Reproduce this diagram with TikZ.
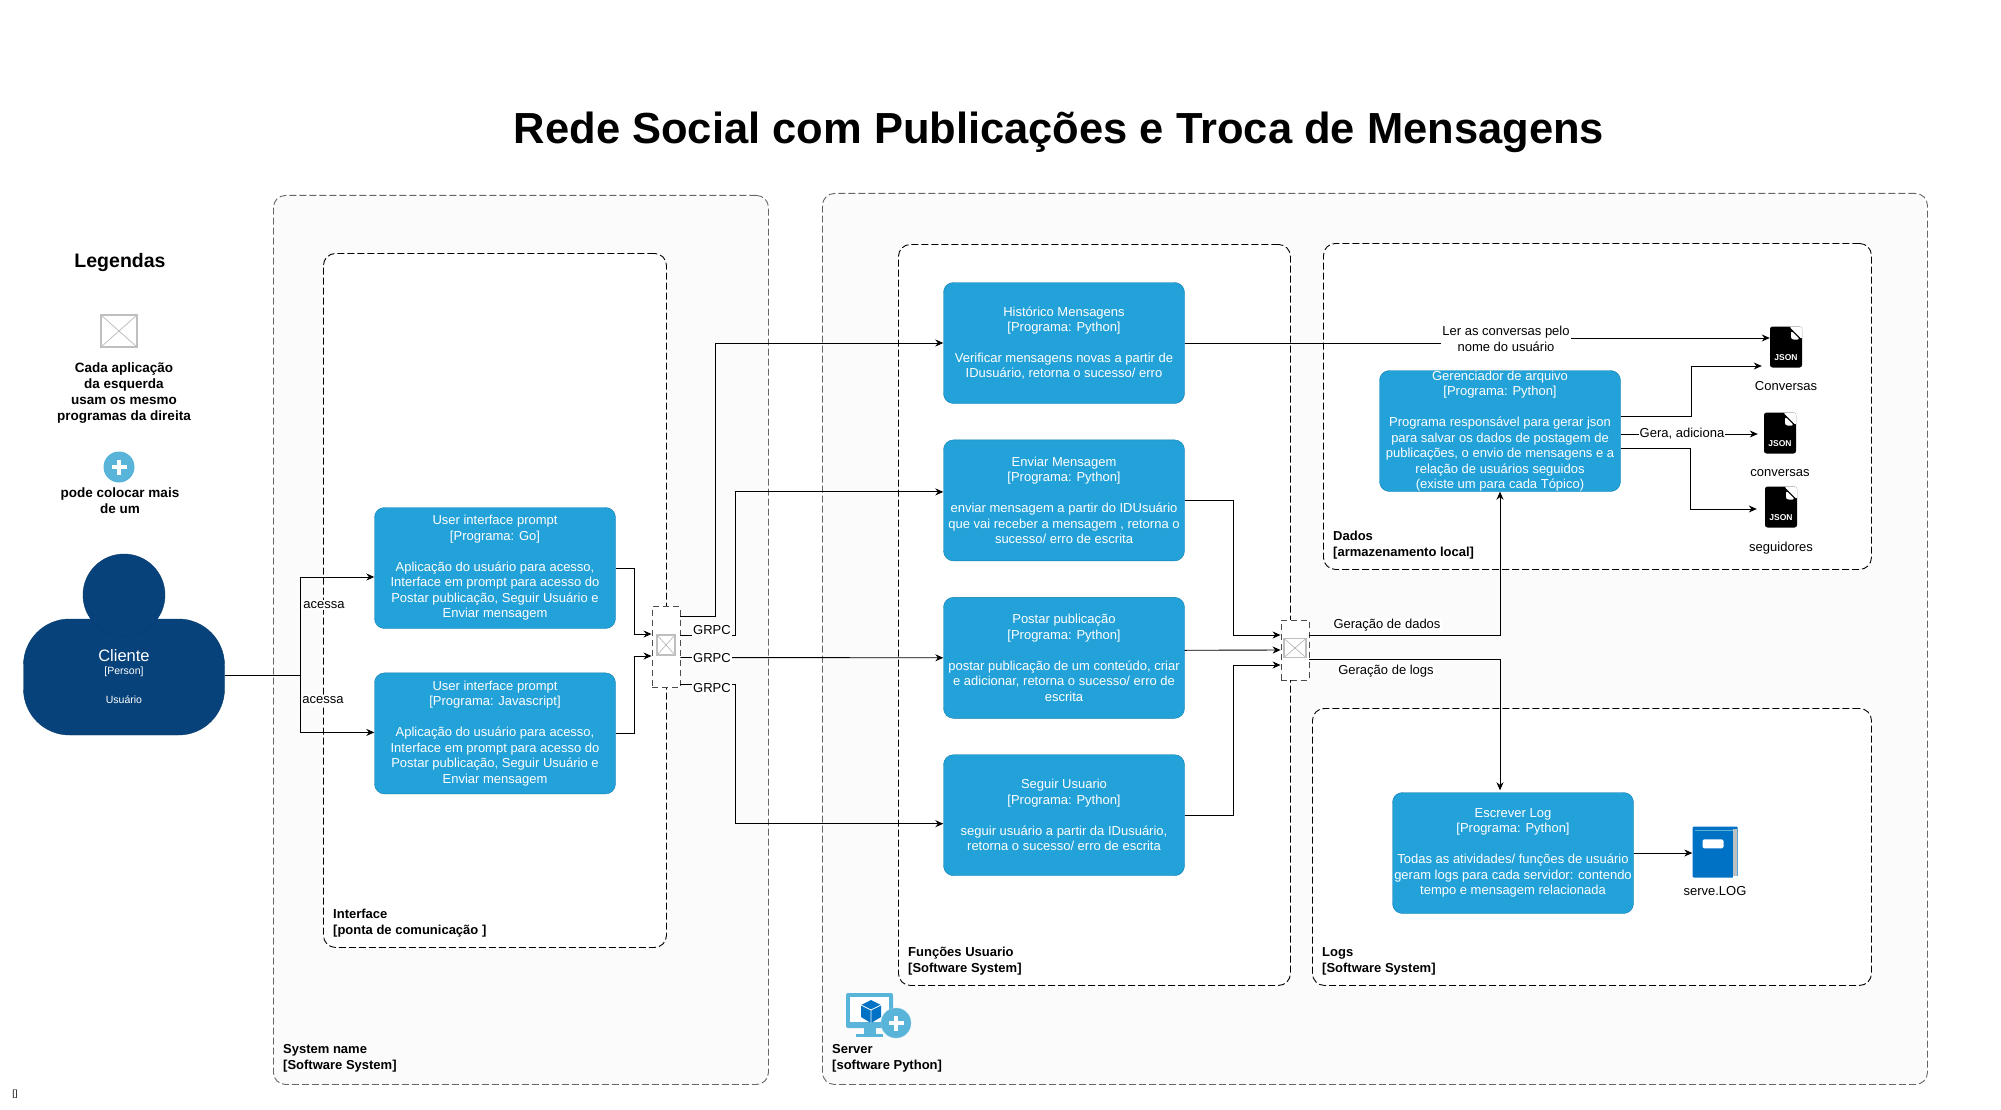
\documentclass[tikz,border=0pt]{standalone}
\usepackage{fontspec}
\setmainfont{Liberation Sans}
\usetikzlibrary{positioning, arrows.meta}

\definecolor{progblue}{HTML}{23A2D9}
\definecolor{progedge}{HTML}{0E7DAD}
\definecolor{persblue}{HTML}{08427B}
\definecolor{persedge}{HTML}{073B6F}
\definecolor{iconblue}{HTML}{59B4D9}
\definecolor{bookblue}{HTML}{0072C6}

\tikzset{
	programa/.style={draw=progedge, fill=progblue, text=white, rounded corners=10pt, minimum width=241pt, minimum height=121pt, inner sep=0pt, align=center, font=\fontsize{13}{15.5}\selectfont},
	sistema/.style={draw=black!60, line width=.9pt, fill=black!1.5, dash pattern=on 7pt off 3pt, rounded corners=12pt, anchor=north west, inner sep=0pt},
	grupo/.style={draw=black, line width=.9pt, fill=white, dash pattern=on 7pt off 3pt, rounded corners=12pt, anchor=north west, inner sep=0pt},
	rotulo/.style={font=\fontsize{13}{15.4}\bfseries\selectfont, align=left, inner sep=0pt},
	texto/.style={font=\fontsize{13}{15.4}\selectfont, align=center, inner sep=1pt},
	aresta/.style={font=\fontsize{13}{15.4}\selectfont, align=center, inner sep=1pt, fill=white},
	legenda/.style={font=\fontsize{13.5}{15.8}\bfseries\selectfont, align=center, inner sep=0pt},
	juncao/.style={draw=black!70, line width=.9pt, fill=white, dash pattern=on 6pt off 4pt, minimum width=28pt, inner sep=0pt},
	imagem/.style={draw=black!25, line width=1.2pt, fill=white, inner sep=0pt, path picture={
		\draw[black!30, line width=.6pt] (path picture bounding box.north west) -- (path picture bounding box.south east);
		\draw[black!30, line width=.6pt] (path picture bounding box.north east) -- (path picture bounding box.south west);}},
	mais/.style={circle, fill=iconblue, minimum size=31pt, inner sep=0pt, path picture={
		\fill[white] ([xshift=-7.5pt,yshift=-2pt]path picture bounding box.center) rectangle ([xshift=7.5pt,yshift=2pt]path picture bounding box.center);
		\fill[white] ([xshift=-2pt,yshift=-7.5pt]path picture bounding box.center) rectangle ([xshift=2pt,yshift=7.5pt]path picture bounding box.center);}},
	json/.style={fill=black, rounded corners=2.5pt, minimum width=32pt, minimum height=41pt, inner sep=0pt, text=white, font=\fontsize{8.5}{9}\bfseries\selectfont, path picture={
		\fill[white] ([xshift=-13pt]path picture bounding box.north east) -- ([xshift=1pt,yshift=1pt]path picture bounding box.north east) -- ([yshift=-13pt]path picture bounding box.north east) -- cycle;
		\fill[white] ([xshift=-11pt,yshift=-4pt]path picture bounding box.north east) -- ([xshift=-11pt,yshift=-13pt]path picture bounding box.north east) -- ([xshift=-2pt,yshift=-13pt]path picture bounding box.north east) -- cycle;}},
	seta/.style={->, draw=black, line width=.9pt},
	linha/.style={draw=black, line width=.9pt}
}
\newcommand{\jsonmark}{\raisebox{-13pt}[0pt][0pt]{JSON}}

\begin{document}
\begin{tikzpicture}[x=1pt, y=-1pt, node distance=36pt, >={Stealth[length=8pt,width=7pt]}]
		\useasboundingbox (0,0) rectangle (2001,1110);

		\node[font=\fontsize{43.5}{48}\bfseries\selectfont, inner sep=0pt] (titulo) at (1059,132.5) {Rede Social com Publicações e Troca de Mensagens};

		\node[sistema, minimum width=495pt, minimum height=889pt] (sysBox) at (273,195) {};
		\node[sistema, minimum width=1105pt, minimum height=891pt] (serverBox) at (822,193) {};
		\node[grupo, minimum width=343pt, minimum height=694pt] (interfaceBox) at (323,253) {};
		\node[grupo, minimum width=392pt, minimum height=741pt] (funcoesBox) at (898,244) {};
		\node[grupo, minimum width=548pt, minimum height=326pt] (dadosBox) at (1323,243) {};
		\node[grupo, minimum width=559pt, minimum height=277pt] (logsBox) at (1312,708) {};

		\node[rotulo, above right=13pt and 10pt of sysBox.south west] (sysLabel) {System name\\{[}Software System{]}};
		\node[rotulo, above right=13pt and 10pt of serverBox.south west] (serverLabel) {Server\\{[}software Python{]}};
		\node[rotulo, above right=11pt and 10pt of interfaceBox.south west] (interfaceLabel) {Interface\\{[}ponta de comunicação {]}};
		\node[rotulo, above right=11pt and 10pt of funcoesBox.south west] (funcoesLabel) {Funções Usuario\\{[}Software System{]}};
		\node[rotulo, above right=11pt and 10pt of dadosBox.south west] (dadosLabel) {Dados\\{[}armazenamento local{]}};
		\node[rotulo, above right=11pt and 10pt of logsBox.south west] (logsLabel) {Logs\\{[}Software System{]}};

		\node[font=\fontsize{19.5}{22}\bfseries\selectfont, inner sep=0pt] (legendas) at (120,262) {Legendas};
		\node[imagem, minimum width=36pt, minimum height=32pt] (legImagem) at (119,331) {};
		\node[legenda] (legImagemTxt) at (124,393) {Cada aplicação\\da esquerda\\usam os mesmo\\programas da direita};
		\node[mais] (legMais) at (119,467) {};
		\node[legenda] (legMaisTxt) at (120,501) {pode colocar mais\\de um};

		\node[draw=persedge, fill=persblue, text=white, rounded corners=46pt, minimum width=201pt, minimum height=116pt, inner sep=0pt, align=center, font=\fontsize{10.5}{13}\selectfont] (cliente) at (124,677) {{\fontsize{16.5}{18}\selectfont Cliente}\\{[}Person{]}\\[16pt]Usuário};
		\node[circle, draw=persedge, fill=persblue, minimum size=82pt, inner sep=0pt] (clienteHead) at (124,595) {};

		\node[programa] (uiGo) at (495,568) {User interface prompt\\{[}Programa: Go{]}\\[15.4pt]Aplicação do usuário para acesso,\\Interface em prompt para acesso do\\Postar publicação, Seguir Usuário e\\Enviar mensagem};
		\node[programa, below = 44pt of uiGo] (uiJs) {User interface prompt\\{[}Programa: Javascript{]}\\[15.4pt]Aplicação do usuário para acesso,\\Interface em prompt para acesso do\\Postar publicação, Seguir Usuário e\\Enviar mensagem};

		\node[programa] (histMsg) at (1064,343) {Histórico Mensagens\\{[}Programa: Python{]}\\[15.4pt]Verificar mensagens novas a partir de\\IDusuário, retorna o sucesso/ erro};
		\node[programa, below = of histMsg] (enviarMsg) {Enviar Mensagem\\{[}Programa: Python{]}\\[15.4pt]enviar mensagem a partir do IDUsuário\\que vai receber a mensagem , retorna o\\sucesso/ erro de escrita};
		\node[programa, below = of enviarMsg] (postarPub) {Postar publicação\\{[}Programa: Python{]}\\[15.4pt]postar publicação de um conteúdo, criar\\e adicionar, retorna o sucesso/ erro de\\escrita};
		\node[programa, below = of postarPub] (seguirUser) {Seguir Usuario\\{[}Programa: Python{]}\\[15.4pt]seguir usuário a partir da IDusuário,\\retorna o sucesso/ erro de escrita};
		\node[programa] (gerArquivo) at (1500,431) {Gerenciador de arquivo\\{[}Programa: Python{]}\\[15.4pt]Programa responsável para gerar json\\para salvar os dados de postagem de\\publicações, o envio de mensagens e a\\relação de usuários seguidos\\(existe um para cada Tópico)};
		\node[programa] (escLog) at (1513,853) {Escrever Log\\{[}Programa: Python{]}\\[15.4pt]Todas as atividades/ funções de usuário\\geram logs para cada servidor: contendo\\tempo e mensagem relacionada};

		\node[json] (jsonConversas) at (1786,347) {\jsonmark};
		\node[texto, below = 13pt of jsonConversas] (txtConversas) {Conversas};
		\node[json] (jsonConversasDois) at (1780,433) {\jsonmark};
		\node[texto, below = 15pt of jsonConversasDois] (txtConversasDois) {conversas};
		\node[json] (jsonSeguidores) at (1781,507) {\jsonmark};
		\node[texto, below = 13pt of jsonSeguidores] (txtSeguidores) {seguidores};

		\node[fill=bookblue, rounded corners=1pt, minimum width=45pt, minimum height=51pt, inner sep=0pt] (bookLog) at (1715,852) {};
		\fill[black!25] ([xshift=-5pt,yshift=-3pt]bookLog.north east) rectangle ([xshift=-1pt,yshift=2pt]bookLog.south east);
		\fill[white] ([xshift=-5pt]bookLog.south east) rectangle ([yshift=2pt]bookLog.south east);
		\draw[iconblue, line width=.6pt] ([xshift=3pt,yshift=-4pt]bookLog.north west) -- ([xshift=-5pt,yshift=-4pt]bookLog.north east);
		\fill[white, rounded corners=1.5pt] ([xshift=-12.5pt,yshift=-13pt]bookLog.north) rectangle ([xshift=8.5pt,yshift=-22pt]bookLog.north);
		\node[texto, below = 8pt of bookLog] (txtLog) {serve.LOG};

		\coordinate (splitCliente) at (300,675);
		\draw[linha] (cliente.east |- splitCliente) to (splitCliente);
		\draw[seta] (splitCliente) |- ([yshift=-9pt]uiGo.west);
		\draw[seta] (splitCliente) |- ([yshift=1pt]uiJs.west);

		\node[juncao, minimum height=81pt] (juncEsq) at (666,647) {};
		\node[juncao, minimum height=60pt] (juncDir) at (1295,650) {};
		\node[imagem, minimum width=18pt, minimum height=20pt] (imgEsq) at (666,645) {};
		\node[imagem, minimum width=22pt, minimum height=19pt] (imgDir) at (1295,648) {};

		\draw[seta] (uiGo.east) -- ++(19,0) |- ([yshift=13pt]juncEsq.west);
		\draw[seta] (uiJs.east) -- ++(19,0) |- ([yshift=-9pt]juncEsq.west);

		\draw[seta] ([yshift=31pt]juncEsq.east) -- ++(35,0) |- (histMsg.west);
		\draw[seta] ([yshift=12pt]juncEsq.east) -- ++(55,0) |- ([yshift=8.5pt]enviarMsg.west);
		\draw[seta] ([yshift=-10.5pt]juncEsq.east) to (postarPub.west);
		\draw[seta] ([yshift=-37pt]juncEsq.east) -- ++(55,0) |- ([yshift=-8.5pt]seguirUser.west);

		\draw[seta] (enviarMsg.east) -- ++(49,0) |- ([yshift=15pt]juncDir.west);
		\draw[seta] ([yshift=7.5pt]postarPub.east) to (juncDir.west);
		\draw[seta] (seguirUser.east) -- ++(49,0) |- ([yshift=-15pt]juncDir.west);
		\draw[seta] ([yshift=15pt]juncDir.east) -| (gerArquivo.south);
		\draw[seta] ([yshift=-9pt]juncDir.east) -| ([yshift=2pt]escLog.north -| gerArquivo.south);

		\node[aresta] (lerConversas) at (1506,339) {Ler as conversas pelo\\nome do usuário};
		\draw[linha] (histMsg.east) -- (histMsg.east -| lerConversas.west);
		\draw[seta] ([yshift=1pt]lerConversas.east) -- ([yshift=9pt]jsonConversas.west);
		\draw[seta] ([yshift=15pt]gerArquivo.east) -- ++(71,0) |- ([xshift=-8pt,yshift=-19pt]jsonConversas.west);
		\draw[seta] ([yshift=-3pt]gerArquivo.east) to ([xshift=-6pt,yshift=-1pt]jsonConversasDois.west);
		\draw[seta] ([yshift=-17pt]gerArquivo.east) -- ++(70,0) |- ([xshift=-8pt,yshift=-2pt]jsonSeguidores.west);
		\draw[seta] (escLog.east) to (escLog.east -| bookLog.west);

		\node[aresta] (acessaGo) at (324,605) {acessa};
		\node[aresta] (acessaJs) at (323,700) {acessa};
		\node[aresta] (grpcUm) at (712,630) {GRPC};
		\node[aresta] (grpcDois) at (712,658) {GRPC};
		\node[aresta] (grpcTres) at (712,688) {GRPC};
		\node[aresta] (geraAdiciona) at (1682,434) {Gera, adiciona};
		\node[aresta] (geraDados) at (1387,625) {Geração de dados};
		\node[aresta] (geraLogs) at (1386,671) {Geração de logs};

		\fill[iconblue, rounded corners=2pt] (846,993) rectangle (893,1028);
		\fill[white] (850,997) rectangle (889,1022);
		\fill[iconblue] (864,1028) rectangle (876,1034);
		\fill[iconblue] (856,1034) rectangle (883,1037);
		\fill[bookblue] (871,1000) -- (881,1005) -- (881,1017) -- (871,1023) -- (861,1017) -- (861,1005) -- cycle;
		\draw[white, line width=.8pt] (861,1005) -- (871,1010) -- (881,1005) (871,1010) -- (871,1023);
		\node[mais, draw=iconblue!70, minimum size=30pt] (serverMais) at (896,1023) {};

		\node[font=\fontsize{9}{10}\selectfont, inner sep=0pt] (vazio) at (15,1094) {{[}{]}};
\end{tikzpicture}
\end{document}
